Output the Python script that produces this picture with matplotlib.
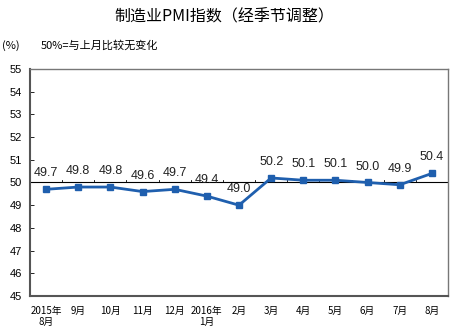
import matplotlib.pyplot as plt

plt.rcParams['font.family'] = ['Noto Sans CJK SC', 'DejaVu Sans']

# manufacturing PMI, seasonally adjusted
months = ['2015年\n8月', '9月', '10月', '11月', '12月', '2016年\n1月',
          '2月', '3月', '4月', '5月', '6月', '7月', '8月']
pmi = [49.7, 49.8, 49.8, 49.6, 49.7, 49.4, 49.0,
       50.2, 50.1, 50.1, 50.0, 49.9, 50.4]
yticks = [45, 46, 47, 48, 49, 50, 51, 52, 53, 54, 55]

fig = plt.figure(figsize=(4.57, 3.32), dpi=100)
ax = fig.add_axes([30/457, 36/332, 418/457, 227/332])

x = list(range(len(months)))
ax.plot(x, pmi, color='#1f5fae', lw=2, marker='s', ms=4.5, zorder=3)

# 50 reference line with small ticks between categories
ax.axhline(50, color='black', lw=0.8, zorder=2)
for b in range(1, len(months)):
    ax.plot([b - 0.5, b - 0.5], [50, 50.12], color='black', lw=0.6, zorder=2)

for xi, v in zip(x, pmi):
    ax.annotate(f'{v:.1f}', (xi, v), xytext=(0, 11.5), textcoords='offset points',
                ha='center', va='center', fontsize=9,
                family=['Liberation Sans', 'DejaVu Sans'], color='#222222')

ax.set_xlim(-0.5, len(months) - 0.5)
ax.set_ylim(45, 55)
ax.set_yticks(yticks)
ax.set_yticklabels([str(t) for t in yticks], fontsize=8,
                   family=['Liberation Sans Narrow', 'Liberation Sans'])
ax.set_xticks(x)
ax.set_xticklabels(months, fontsize=7, linespacing=1.15)
ax.tick_params(axis='x', length=0, pad=7)
ax.tick_params(axis='y', direction='in', length=3, width=0.6, pad=6)

for side in ['left', 'bottom']:
    ax.spines[side].set_color('#555555')
    ax.spines[side].set_linewidth(1.5)
for side in ['top', 'right']:
    ax.spines[side].set_color('#777777')
    ax.spines[side].set_linewidth(1)

fig.text(0.49, 0.95, '制造业PMI指数（经季节调整）', ha='center', va='center',
         fontsize=11.5, weight='medium')
fig.text(0.005, 0.862, '(%)', ha='left', va='center', fontsize=8)
fig.text(0.09, 0.862, '50%=与上月比较无变化', ha='left', va='center', fontsize=8)

fig.savefig('out.png', dpi=100)
